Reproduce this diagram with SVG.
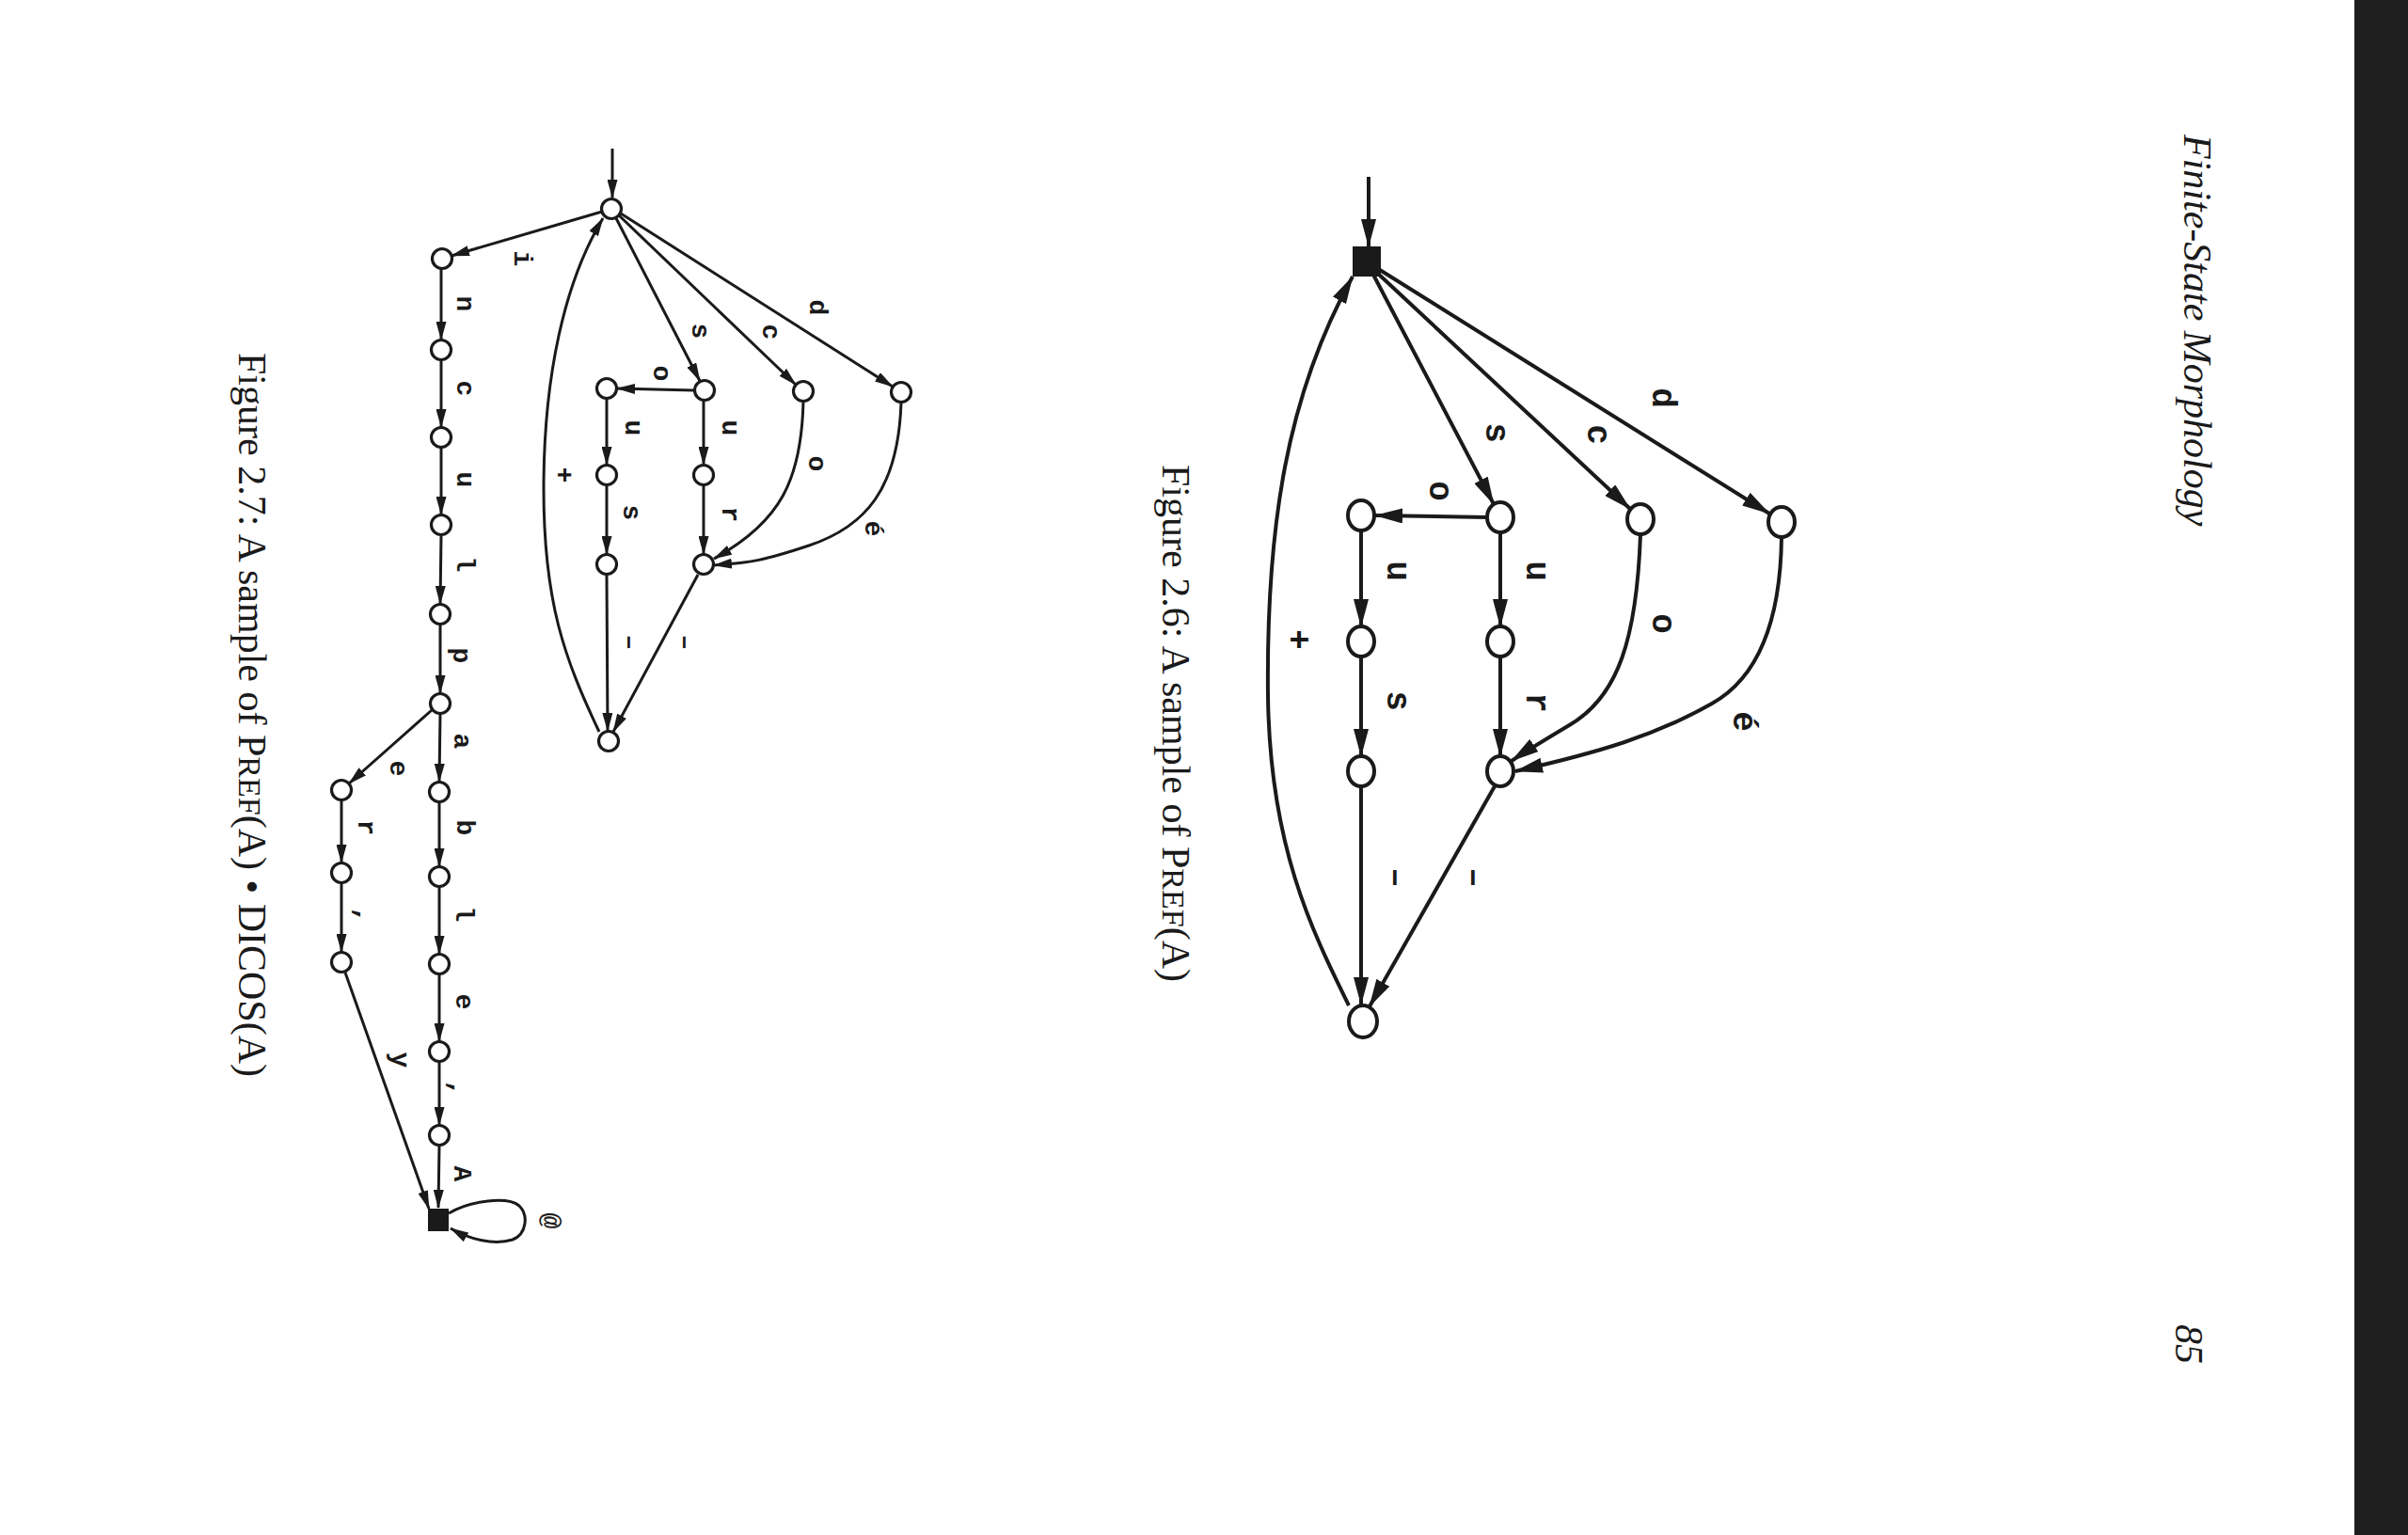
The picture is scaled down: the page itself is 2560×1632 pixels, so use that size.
<svg xmlns="http://www.w3.org/2000/svg" width="2560" height="1632" viewBox="0 0 2560 1632">
<style>
.e6{fill:none;stroke:#1a1a1a;stroke-width:4;marker-end:url(#a6)}
.e7{fill:none;stroke:#1a1a1a;stroke-width:3;marker-end:url(#a7)}
.n6{fill:#fff;stroke:#1a1a1a;stroke-width:4}
.n7{fill:#fff;stroke:#1a1a1a;stroke-width:3.2}
.l6{font-family:"Liberation Mono","DejaVu Sans Mono",monospace;font-size:36px;font-weight:bold;fill:#1a1a1a;text-anchor:middle;dominant-baseline:central}
.l7{font-family:"Liberation Mono","DejaVu Sans Mono",monospace;font-size:28px;font-weight:bold;fill:#1a1a1a;text-anchor:middle;dominant-baseline:central}
.cap{font-family:"Liberation Serif","Times New Roman",serif;font-size:42px;fill:#1a1a1a}
</style>
<defs>
<marker id="a6" markerUnits="userSpaceOnUse" markerWidth="30" markerHeight="16" refX="29" refY="8" orient="auto"><path d="M0,0 L30,8 L0,16 z" fill="#1a1a1a"/></marker>
<marker id="a7" markerUnits="userSpaceOnUse" markerWidth="20" markerHeight="11" refX="19" refY="5.5" orient="auto"><path d="M0,0 L20,5.5 L0,11 z" fill="#1a1a1a"/></marker>
</defs>
<rect x="0" y="0" width="2560" height="1632" fill="#fff"/>
<rect x="2503" y="0" width="57" height="1632" fill="#1e1e1e"/>
<g id="header">
<text class="cap" font-style="italic" transform="translate(2322,143) rotate(90)">Finite-State Morphology</text>
<text class="cap" font-style="italic" transform="translate(2313,1408) rotate(90)">85</text>
</g>
<g id="fig26-connectors">
<path class="e6" d="M1455,188 L1455,262"/>
<path class="e6" d="M1460,292 L1588,536"/>
<path class="e6" d="M1464,290 L1733,541"/>
<path class="e6" d="M1467,287 L1881,546"/>
<path class="e6" d="M1581,550 L1462,548"/>
<path class="e6" d="M1595,566 L1595,666"/>
<path class="e6" d="M1595,698 L1595,804"/>
<path class="e6" d="M1447,563 L1447,666"/>
<path class="e6" d="M1447,698 L1447,804"/>
<path class="e6" d="M1447,836 L1447,1068"/>
<path class="e6" d="M1589,836 L1456,1070"/>
<path class="e6" d="M1744,568 C1740,680 1720,740 1670,770 S1620,800 1607,809"/>
<path class="e6" d="M1894,571 C1893,660 1870,720 1820,748 C1760,782 1700,800 1611,820"/>
<path class="e6" d="M1434,1069 C1395,990 1350,900 1348,740 C1346,560 1368,420 1438,294"/>
</g>
<g id="fig26-nodes">
<rect id="f6-start" x="1438" y="262" width="30" height="32" fill="#1a1a1a"/>
<ellipse id="f6-s" class="n6" cx="1595" cy="550" rx="14" ry="16"/>
<ellipse id="f6-so" class="n6" cx="1447" cy="548" rx="14" ry="16"/>
<ellipse id="f6-c" class="n6" cx="1744" cy="552" rx="14" ry="16"/>
<ellipse id="f6-d" class="n6" cx="1894" cy="555" rx="14" ry="16"/>
<ellipse id="f6-su" class="n6" cx="1595" cy="682" rx="14" ry="16"/>
<ellipse id="f6-r" class="n6" cx="1595" cy="820" rx="14" ry="16"/>
<ellipse id="f6-sou" class="n6" cx="1447" cy="682" rx="14" ry="16"/>
<ellipse id="f6-sous" class="n6" cx="1447" cy="820" rx="14" ry="16"/>
<ellipse id="f6-final" class="n6" cx="1449" cy="1086" rx="15" ry="17"/>
</g>
<g id="fig26-labels">
<text class="l6" transform="translate(1766,423) rotate(90)">d</text>
<text class="l6" transform="translate(1697,462) rotate(90)">c</text>
<text class="l6" transform="translate(1589,460) rotate(90)">s</text>
<text class="l6" transform="translate(1529,522) rotate(90)">o</text>
<text class="l6" transform="translate(1632,607) rotate(90)">u</text>
<text class="l6" transform="translate(1484,607) rotate(90)">u</text>
<text class="l6" transform="translate(1766,663) rotate(90)">o</text>
<text class="l6" transform="translate(1852,767) rotate(90)">é</text>
<text class="l6" transform="translate(1632,747) rotate(90)">r</text>
<text class="l6" transform="translate(1484,745) rotate(90)">s</text>
<text class="l6" transform="translate(1565,933) rotate(90)">–</text>
<text class="l6" transform="translate(1482,933) rotate(90)">–</text>
<text class="l6" transform="translate(1378,680) rotate(90)">+</text>
</g>
<text id="cap26" class="cap" transform="translate(1236,494) rotate(90)">Figure 2.6:  A sample of P<tspan font-size="34">REF</tspan>(A)</text>
<g id="fig27-connectors">
<path class="e7" d="M651,158 L651,210"/>
<path class="e7" d="M640,225 L480,272"/>
<path class="e7" d="M655,232 L744,405"/>
<path class="e7" d="M658,229 L846,409"/>
<path class="e7" d="M660,227 L949,411"/>
<path class="e7" d="M738,415 L656,413"/>
<path class="e7" d="M748,426 L748,494"/>
<path class="e7" d="M748,516 L748,589"/>
<path class="e7" d="M645,424 L645,494"/>
<path class="e7" d="M645,516 L645,589"/>
<path class="e7" d="M645,611 L646,777"/>
<path class="e7" d="M742,611 L652,778"/>
<path class="e7" d="M854,427 C852,510 830,555 759,594"/>
<path class="e7" d="M958,428 C955,520 920,560 860,580 S790,598 759,601"/>
<path class="e7" d="M637,778 C600,700 578,640 578,520 C578,400 600,300 641,232"/>
<path class="e7" d="M469,286 L469,361"/>
<path class="e7" d="M469,383 L469,454"/>
<path class="e7" d="M469,476 L469,547"/>
<path class="e7" d="M469,569 L468,642"/>
<path class="e7" d="M468,664 L468,737"/>
<path class="e7" d="M468,759 L467,831"/>
<path class="e7" d="M467,853 L467,921"/>
<path class="e7" d="M467,943 L467,1014"/>
<path class="e7" d="M467,1036 L467,1107"/>
<path class="e7" d="M467,1129 L467,1196"/>
<path class="e7" d="M467,1218 L466,1284"/>
<path class="e7" d="M459,755 L371,833"/>
<path class="e7" d="M363,851 L363,917"/>
<path class="e7" d="M363,939 L363,1012"/>
<path class="e7" d="M367,1034 L456,1285"/>
<path class="e7" d="M477,1290 C500,1276 540,1272 552,1282 C562,1292 560,1312 545,1318 C525,1324 500,1318 479,1306"/>
</g>
<g id="fig27-nodes">
<circle id="f7-start" class="n7" cx="650" cy="222" r="10.5"/>
<circle id="f7-s" class="n7" cx="749" cy="415" r="10.5"/>
<circle id="f7-so" class="n7" cx="645" cy="413" r="10.5"/>
<circle id="f7-c" class="n7" cx="854" cy="416" r="10.5"/>
<circle id="f7-d" class="n7" cx="958" cy="417" r="10.5"/>
<circle id="f7-su" class="n7" cx="748" cy="505" r="10.5"/>
<circle id="f7-r" class="n7" cx="748" cy="600" r="10.5"/>
<circle id="f7-sou" class="n7" cx="645" cy="505" r="10.5"/>
<circle id="f7-sous" class="n7" cx="645" cy="600" r="10.5"/>
<circle id="f7-final" class="n7" cx="647" cy="788" r="10.5"/>
<circle id="f7-i" class="n7" cx="470" cy="275" r="10.5"/>
<circle id="f7-n" class="n7" cx="469" cy="372" r="10.5"/>
<circle id="f7-c2" class="n7" cx="469" cy="465" r="10.5"/>
<circle id="f7-u" class="n7" cx="469" cy="558" r="10.5"/>
<circle id="f7-l" class="n7" cx="468" cy="653" r="10.5"/>
<circle id="f7-p" class="n7" cx="468" cy="748" r="10.5"/>
<circle id="f7-a" class="n7" cx="467" cy="842" r="10.5"/>
<circle id="f7-b" class="n7" cx="467" cy="932" r="10.5"/>
<circle id="f7-l2" class="n7" cx="467" cy="1025" r="10.5"/>
<circle id="f7-e" class="n7" cx="467" cy="1118" r="10.5"/>
<circle id="f7-comma" class="n7" cx="467" cy="1207" r="10.5"/>
<circle id="f7-be" class="n7" cx="363" cy="840" r="10.5"/>
<circle id="f7-ber" class="n7" cx="363" cy="928" r="10.5"/>
<circle id="f7-bercomma" class="n7" cx="363" cy="1023" r="10.5"/>
<rect id="f7-end" x="455" y="1285" width="22" height="24" fill="#1a1a1a"/>
</g>
<g id="fig27-labels">
<text class="l7" transform="translate(868,327) rotate(90)">d</text>
<text class="l7" transform="translate(818,353) rotate(90)">c</text>
<text class="l7" transform="translate(743,352) rotate(90)">s</text>
<text class="l7" transform="translate(702,397) rotate(90)">o</text>
<text class="l7" transform="translate(775,455) rotate(90)">u</text>
<text class="l7" transform="translate(672,455) rotate(90)">u</text>
<text class="l7" transform="translate(867,493) rotate(90)">o</text>
<text class="l7" transform="translate(775,547) rotate(90)">r</text>
<text class="l7" transform="translate(670,545) rotate(90)">s</text>
<text class="l7" transform="translate(927,562) rotate(90)">é</text>
<text class="l7" transform="translate(598,505) rotate(90)">+</text>
<text class="l7" transform="translate(727,683) rotate(90)">–</text>
<text class="l7" transform="translate(668,683) rotate(90)">–</text>
<text class="l7" transform="translate(554,275) rotate(90)">i</text>
<text class="l7" transform="translate(493,323) rotate(90)">n</text>
<text class="l7" transform="translate(493,413) rotate(90)">c</text>
<text class="l7" transform="translate(493,510) rotate(90)">u</text>
<text class="l7" transform="translate(493,600) rotate(90)">l</text>
<text class="l7" transform="translate(489,697) rotate(90)">p</text>
<text class="l7" transform="translate(490,788) rotate(90)">a</text>
<text class="l7" transform="translate(493,880) rotate(90)">b</text>
<text class="l7" transform="translate(492,972) rotate(90)">l</text>
<text class="l7" transform="translate(492,1065) rotate(90)">e</text>
<text class="l7" transform="translate(486,1157) rotate(90)">,</text>
<text class="l7" transform="translate(490,1248) rotate(90)">A</text>
<text class="l7" transform="translate(422,817) rotate(90)">e</text>
<text class="l7" transform="translate(388,880) rotate(90)">r</text>
<text class="l7" transform="translate(386,973) rotate(90)">,</text>
<text class="l7" transform="translate(424,1127) rotate(90)">y</text>
<text class="l7" transform="translate(584,1298) rotate(90)">@</text>
</g>
<text id="cap27" class="cap" transform="translate(254,375) rotate(90)">Figure 2.7:  A sample of P<tspan font-size="34">REF</tspan>(A) • DICOS(A)</text>
</svg>
